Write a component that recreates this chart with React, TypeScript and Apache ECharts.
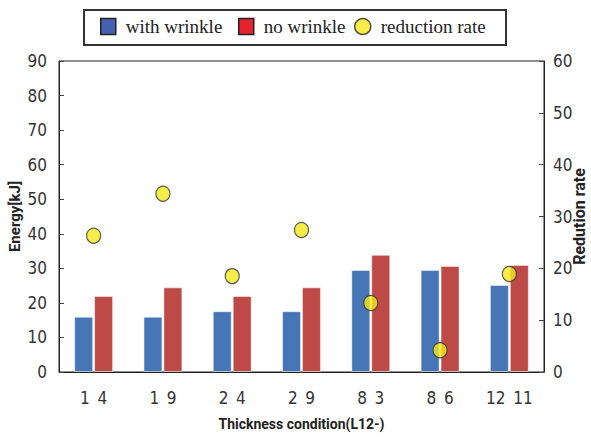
import React, { useEffect, useRef } from "react";
import * as echarts from "echarts";

const categories = ["1\u20024", "1\u20029", "2\u20024", "2\u20029", "8\u20023", "8\u20026", "12\u200211"];
const withWrinkle = [16.0, 16.0, 17.6, 17.6, 29.5, 29.5, 25.2];
const noWrinkle = [22.0, 24.5, 22.0, 24.5, 33.9, 30.7, 31.0];
const reductionRate = [26.3, 34.4, 18.5, 27.4, 13.3, 4.2, 18.9];
const energyTicks = { min: 0, max: 90, interval: 10 };
const rateTicks = { min: 0, max: 60, interval: 10 };

const tickFont = "'Liberation Sans Narrow', 'DejaVu Sans Condensed', sans-serif";
const titleFont = "Roboto, 'Noto Sans', sans-serif";
const legendFont = "'Liberation Serif', 'DejaVu Serif', serif";

export default function App() {
  const ref = useRef<HTMLDivElement>(null);
  useEffect(() => {
    if (!ref.current) return;
    const chart = echarts.init(ref.current, null, { renderer: "svg" });
    const legendBase = {
      top: 17,
      padding: 0,
      itemWidth: 15,
      itemHeight: 16,
      selectedMode: false,
      textStyle: { fontFamily: legendFont, fontSize: 19, color: "#222", padding: [0, 0, 0, 5] },
    };
    chart.setOption({
      animation: false,
      backgroundColor: "#fff",
      graphic: [
        {
          type: "rect",
          shape: { x: 84, y: 10, width: 422, height: 35 },
          style: { fill: "none", stroke: "#333", lineWidth: 2 },
          z: 0,
        },
      ],
      legend: [
        {
          ...legendBase,
          left: 100,
          data: [{ name: "with wrinkle", icon: "rect", itemStyle: { color: "#4560b0", borderColor: "#222", borderWidth: 1.5 } }],
        },
        {
          ...legendBase,
          left: 238,
          data: [{ name: "no wrinkle", icon: "rect", itemStyle: { color: "#e4232b", borderColor: "#222", borderWidth: 1.5 } }],
        },
        {
          ...legendBase,
          left: 354,
          itemWidth: 16,
          data: [{ name: "reduction rate", icon: "circle", itemStyle: { color: "#f5e71c", borderColor: "#222", borderWidth: 1.5 } }],
        },
      ],
      grid: {
        left: 59,
        right: 47,
        top: 61,
        bottom: 65,
        show: true,
        borderColor: "#222",
        borderWidth: 1,
        containLabel: false,
        outerBoundsMode: "none",
      },
      xAxis: {
        type: "category",
        data: categories,
        axisLine: { lineStyle: { color: "#222", width: 1 } },
        axisTick: { inside: true, length: 5, lineStyle: { color: "#444" } },
        axisLabel: { fontFamily: tickFont, fontSize: 17, color: "#333", margin: 17 },
        name: "Thickness condition(L12-)",
        nameLocation: "middle",
        nameGap: 45,
        nameMoveOverlap: false,
        nameTextStyle: { fontFamily: titleFont, fontWeight: "bold", fontSize: 14, color: "#222" },
      },
      yAxis: [
        {
          type: "value",
          ...energyTicks,
          axisLine: { show: true, lineStyle: { color: "#222", width: 1 } },
          axisTick: { show: true, inside: true, length: 5, lineStyle: { color: "#444" } },
          axisLabel: { fontFamily: tickFont, fontSize: 17, color: "#333", margin: 12 },
          splitLine: { show: false },
          name: "Energy[kJ]",
          nameLocation: "middle",
          nameGap: 37,
          nameMoveOverlap: false,
          nameTextStyle: { fontFamily: titleFont, fontWeight: "bold", fontSize: 15, color: "#222" },
        },
        {
          type: "value",
          position: "right",
          ...rateTicks,
          axisLine: { show: true, lineStyle: { color: "#222", width: 1 } },
          axisTick: { show: true, inside: true, length: 5, lineStyle: { color: "#444" } },
          axisLabel: { fontFamily: tickFont, fontSize: 17, color: "#333", margin: 9 },
          splitLine: { show: false },
          name: "Redution rate",
          nameLocation: "middle",
          nameGap: 27,
          nameMoveOverlap: false,
          nameTextStyle: { fontFamily: titleFont, fontWeight: "bold", fontSize: 16, color: "#222" },
        },
      ],
      series: [
        {
          name: "with wrinkle",
          type: "bar",
          data: withWrinkle,
          barWidth: 19,
          barGap: "5%",
          itemStyle: { color: "#4676b6", borderColor: "rgba(255,255,255,0.5)", borderWidth: 1 },
        },
        {
          name: "no wrinkle",
          type: "bar",
          data: noWrinkle,
          barWidth: 19,
          barGap: "5%",
          itemStyle: { color: "#be4a48", borderColor: "rgba(255,255,255,0.5)", borderWidth: 1 },
        },
        {
          name: "reduction rate",
          type: "scatter",
          yAxisIndex: 1,
          data: reductionRate,
          symbol: "circle",
          symbolSize: [14, 15],
          itemStyle: { color: "#f5e71c", borderColor: "#333", borderWidth: 1.2 },
          z: 5,
        },
      ],
    });
    return () => chart.dispose();
  }, []);
  return <div ref={ref} style={{ width: 591, height: 437, position: "absolute", left: 0, top: 0 }} />;
}
